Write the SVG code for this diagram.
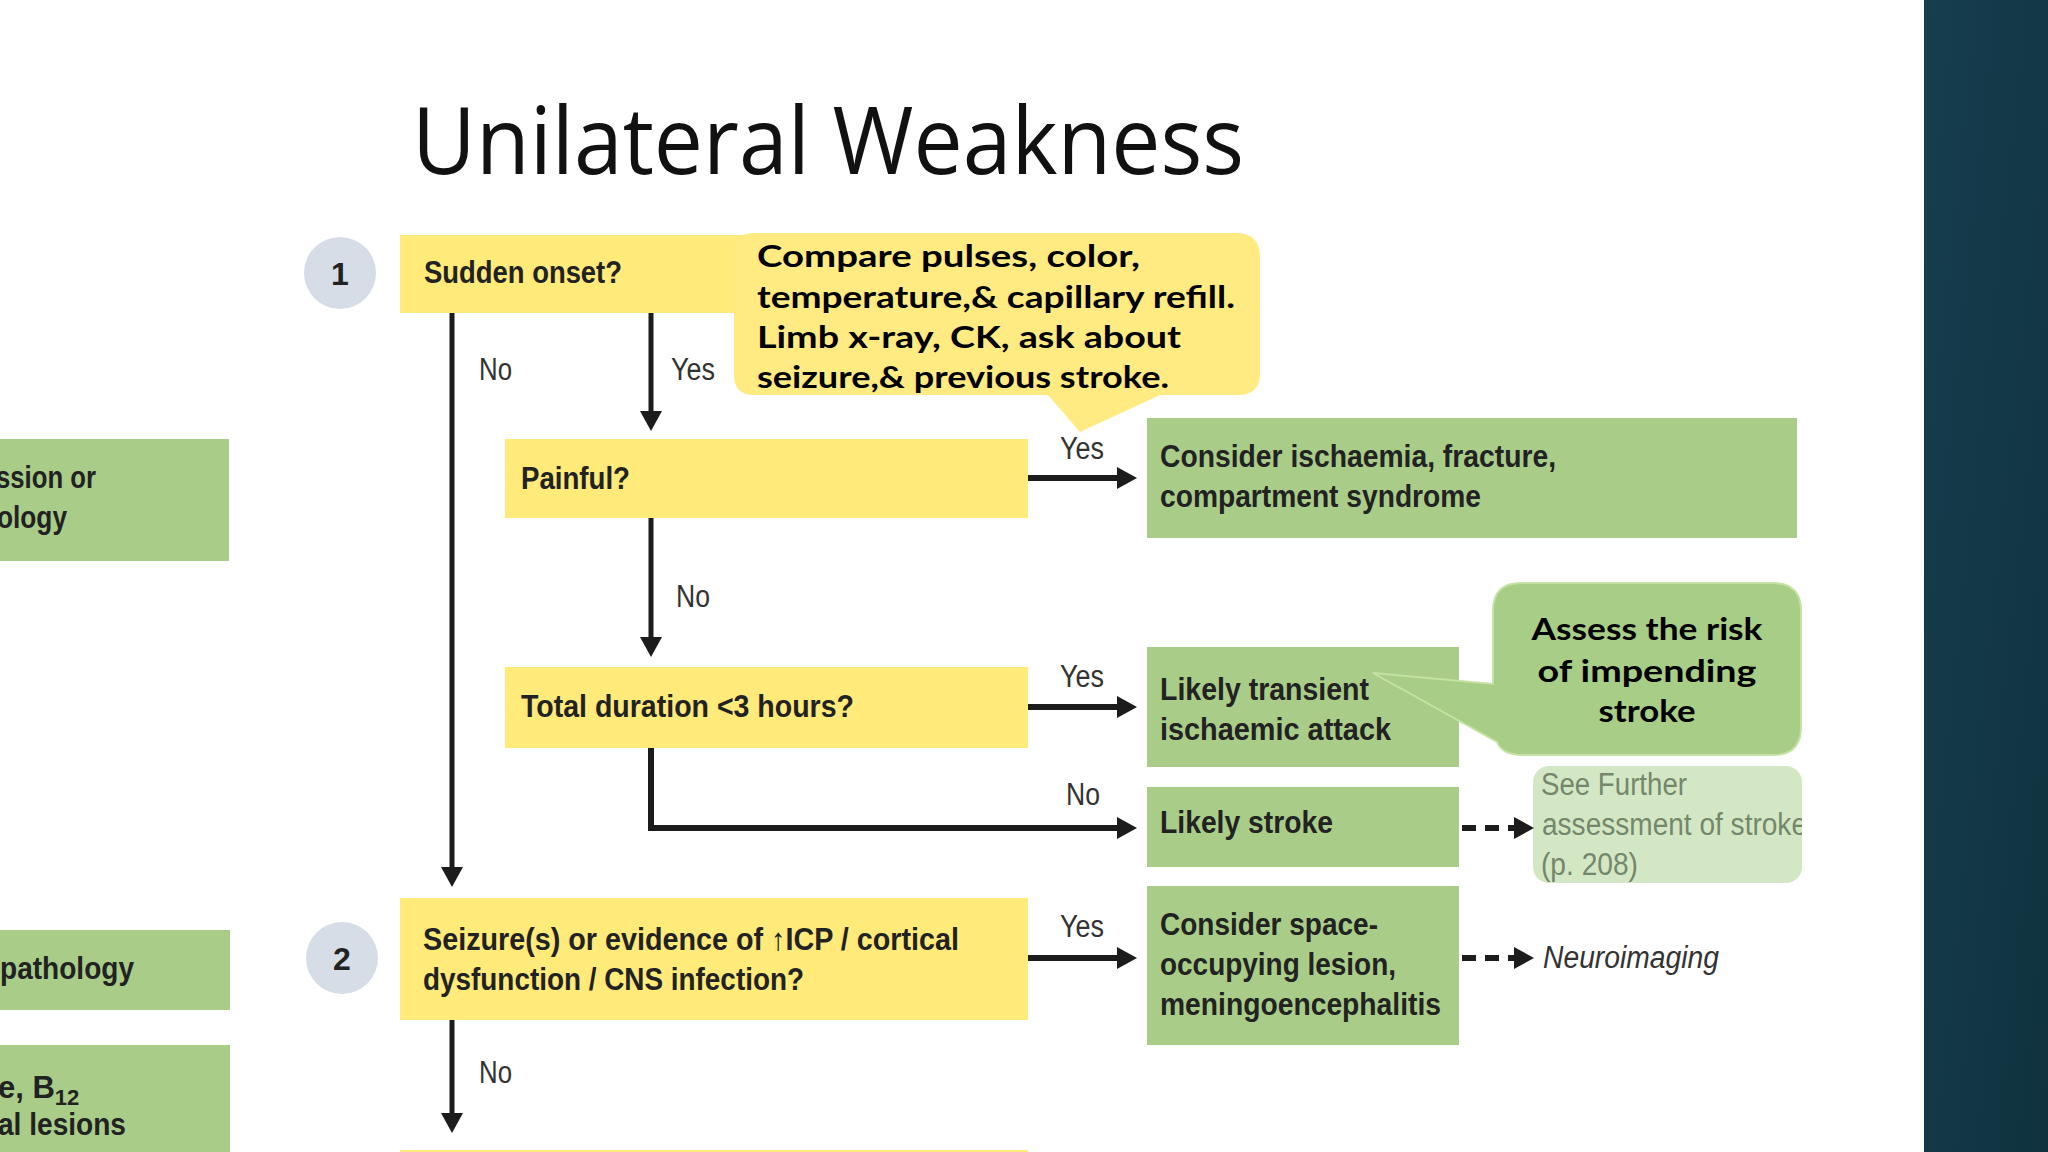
<svg xmlns="http://www.w3.org/2000/svg" width="2048" height="1152" viewBox="0 0 2048 1152">
<defs>
<style>
.y{fill:#ffea7a}
.g{fill:#a9cd89}
.b{font-family:"Liberation Sans",Arial,sans-serif;font-weight:bold;font-size:31px;fill:#222}
.l{font-family:"Liberation Sans",Arial,sans-serif;font-size:31px;fill:#333}
.c{font-family:Lato,"Open Sans",sans-serif;font-weight:bold;font-size:31px;fill:#000}
.f{font-family:"Liberation Sans",Arial,sans-serif;font-size:31px;fill:#75876a}
.num{font-family:"Liberation Sans",Arial,sans-serif;font-weight:bold;font-size:32px;fill:#222;text-anchor:middle}
.ar{fill:none;stroke:#1c1c1c;stroke-width:6}
.av{fill:none;stroke:#1c1c1c;stroke-width:5}
.ad{fill:none;stroke:#1c1c1c;stroke-width:6;stroke-dasharray:14 9}
</style>
<marker id="ah" markerUnits="userSpaceOnUse" markerWidth="20" markerHeight="22" refX="1" refY="11" orient="auto">
<path d="M0,0 L20,11 L0,22 Z" fill="#1c1c1c"/>
</marker>
<clipPath id="sfclip"><rect x="1533" y="766" width="269" height="117" rx="16"/></clipPath>
<linearGradient id="panel" x1="0" y1="0" x2="1" y2="1">
<stop offset="0" stop-color="#163e4f"/>
<stop offset="1" stop-color="#10323f"/>
</linearGradient>
</defs>
<rect width="2048" height="1152" fill="#ffffff"/>
<rect x="1924" y="0" width="124" height="1152" fill="url(#panel)"/>

<text x="412" y="174" font-family="Open Sans, sans-serif" font-size="94" fill="#111" textLength="832" lengthAdjust="spacingAndGlyphs">Unilateral Weakness</text>

<g id="left-box-a">
<rect class="g" x="0" y="439" width="229" height="122"/>
<text class="b" x="-4" y="488" textLength="100" lengthAdjust="spacingAndGlyphs">ssion or</text>
<text class="b" x="-3" y="528" textLength="70" lengthAdjust="spacingAndGlyphs">ology</text>
</g>
<g id="left-box-b">
<rect class="g" x="0" y="930" width="230" height="80"/>
<text class="b" x="0" y="979" textLength="134" lengthAdjust="spacingAndGlyphs">pathology</text>
</g>
<g id="left-box-c">
<rect class="g" x="0" y="1045" width="230" height="110"/>
<text class="b" x="-2" y="1098">e, B<tspan font-size="22" dy="7">12</tspan></text>
<text class="b" x="-2" y="1135" textLength="128" lengthAdjust="spacingAndGlyphs">al lesions</text>
</g>

<g id="step1">
<circle cx="340" cy="273" r="36" fill="#d7dde7"/>
<text class="num" x="340" y="285">1</text>
</g>
<g id="step2">
<circle cx="342" cy="958" r="36" fill="#d7dde7"/>
<text class="num" x="342" y="970">2</text>
</g>

<g id="sudden-onset">
<rect class="y" x="400" y="235" width="628" height="78"/>
<text class="b" x="424" y="283" textLength="198" lengthAdjust="spacingAndGlyphs">Sudden onset?</text>
</g>

<g id="note-compare">
<path d="M754,233 H1236 Q1260,233 1260,257 V373 Q1260,395 1238,395 H1160 L1080,432 L1048,395 H754 Q734,395 734,375 V253 Q734,233 754,233 Z" fill="#ffeb82"/>
<text class="c" x="757" y="267" textLength="383" lengthAdjust="spacingAndGlyphs">Compare pulses, color,</text>
<text class="c" x="757" y="308" textLength="478" lengthAdjust="spacingAndGlyphs">temperature,&amp; capillary refill.</text>
<text class="c" x="757" y="348" textLength="424" lengthAdjust="spacingAndGlyphs">Limb x-ray, CK, ask about</text>
<text class="c" x="757" y="388" textLength="412" lengthAdjust="spacingAndGlyphs">seizure,&amp; previous stroke.</text>
</g>

<g id="painful">
<rect class="y" x="505" y="439" width="523" height="79"/>
<text class="b" x="521" y="489" textLength="109" lengthAdjust="spacingAndGlyphs">Painful?</text>
</g>

<g id="total-duration">
<rect class="y" x="505" y="667" width="523" height="81"/>
<text class="b" x="521" y="717" textLength="333" lengthAdjust="spacingAndGlyphs">Total duration &lt;3 hours?</text>
</g>

<g id="seizures">
<rect class="y" x="400" y="898" width="628" height="122"/>
<text class="b" x="423" y="950" textLength="536" lengthAdjust="spacingAndGlyphs">Seizure(s) or evidence of ↑ICP / cortical</text>
<text class="b" x="423" y="990" textLength="381" lengthAdjust="spacingAndGlyphs">dysfunction / CNS infection?</text>
</g>

<g id="next-step">
<rect class="y" x="400" y="1150" width="628" height="10"/>
</g>

<g id="consider-ischaemia">
<rect class="g" x="1147" y="418" width="650" height="120"/>
<text class="b" x="1160" y="467" textLength="396" lengthAdjust="spacingAndGlyphs">Consider ischaemia, fracture,</text>
<text class="b" x="1160" y="507" textLength="321" lengthAdjust="spacingAndGlyphs">compartment syndrome</text>
</g>

<g id="likely-tia">
<rect class="g" x="1147" y="647" width="312" height="120"/>
<text class="b" x="1160" y="700" textLength="209" lengthAdjust="spacingAndGlyphs">Likely transient</text>
<text class="b" x="1160" y="740" textLength="231" lengthAdjust="spacingAndGlyphs">ischaemic attack</text>
</g>

<g id="note-assess">
<path d="M1521,583 H1773 Q1801,583 1801,611 V727 Q1801,755 1773,755 H1523 Q1502,755 1497,742 L1373,673 L1493,684 V611 Q1493,583 1521,583 Z" fill="#a8cd86" stroke="#c4e2a4" stroke-width="2"/>
<text class="c" x="1647" y="640" text-anchor="middle" textLength="231" lengthAdjust="spacingAndGlyphs">Assess the risk</text>
<text class="c" x="1647" y="682" text-anchor="middle" textLength="219" lengthAdjust="spacingAndGlyphs">of impending</text>
<text class="c" x="1647" y="722" text-anchor="middle" textLength="97" lengthAdjust="spacingAndGlyphs">stroke</text>
</g>

<g id="likely-stroke">
<rect class="g" x="1147" y="787" width="312" height="80"/>
<text class="b" x="1160" y="833" textLength="173" lengthAdjust="spacingAndGlyphs">Likely stroke</text>
</g>

<g id="see-further">
<rect x="1533" y="766" width="269" height="117" rx="16" fill="#d4e7c5"/>
<g clip-path="url(#sfclip)">
<text class="f" x="1541" y="795" textLength="146" lengthAdjust="spacingAndGlyphs">See Further</text>
<text class="f" x="1542" y="835" textLength="265" lengthAdjust="spacingAndGlyphs">assessment of stroke</text>
<text class="f" x="1541" y="875" textLength="97" lengthAdjust="spacingAndGlyphs">(p. 208)</text>
</g>
</g>

<g id="consider-space">
<rect class="g" x="1147" y="886" width="312" height="159"/>
<text class="b" x="1160" y="935" textLength="218" lengthAdjust="spacingAndGlyphs">Consider space-</text>
<text class="b" x="1160" y="975" textLength="236" lengthAdjust="spacingAndGlyphs">occupying lesion,</text>
<text class="b" x="1160" y="1015" textLength="281" lengthAdjust="spacingAndGlyphs">meningoencephalitis</text>
</g>

<g id="neuroimaging">
<text class="l" x="1543" y="968" font-style="italic" fill="#222" textLength="176" lengthAdjust="spacingAndGlyphs">Neuroimaging</text>
</g>

<g id="connectors">
<path class="av" d="M452,313 V868" marker-end="url(#ah)"/>
<path class="av" d="M651,313 V412" marker-end="url(#ah)"/>
<path class="av" d="M651,518 V638" marker-end="url(#ah)"/>
<path class="ar" d="M1028,478 H1118" marker-end="url(#ah)"/>
<path class="ar" d="M1028,707 H1118" marker-end="url(#ah)"/>
<path class="ar" d="M651,748 V828 H1118" marker-end="url(#ah)"/>
<path class="ar" d="M1028,958 H1118" marker-end="url(#ah)"/>
<path class="av" d="M452,1020 V1114" marker-end="url(#ah)"/>
<path class="ad" d="M1462,828 H1515" marker-end="url(#ah)"/>
<path class="ad" d="M1462,958 H1515" marker-end="url(#ah)"/>
<text class="l" x="479" y="380" textLength="33" lengthAdjust="spacingAndGlyphs">No</text>
<text class="l" x="671" y="380" textLength="44" lengthAdjust="spacingAndGlyphs">Yes</text>
<text class="l" x="1060" y="459" textLength="44" lengthAdjust="spacingAndGlyphs">Yes</text>
<text class="l" x="676" y="607" textLength="34" lengthAdjust="spacingAndGlyphs">No</text>
<text class="l" x="1060" y="687" textLength="44" lengthAdjust="spacingAndGlyphs">Yes</text>
<text class="l" x="1066" y="805" textLength="34" lengthAdjust="spacingAndGlyphs">No</text>
<text class="l" x="1060" y="937" textLength="44" lengthAdjust="spacingAndGlyphs">Yes</text>
<text class="l" x="479" y="1083" textLength="33" lengthAdjust="spacingAndGlyphs">No</text>
</g>
</svg>
